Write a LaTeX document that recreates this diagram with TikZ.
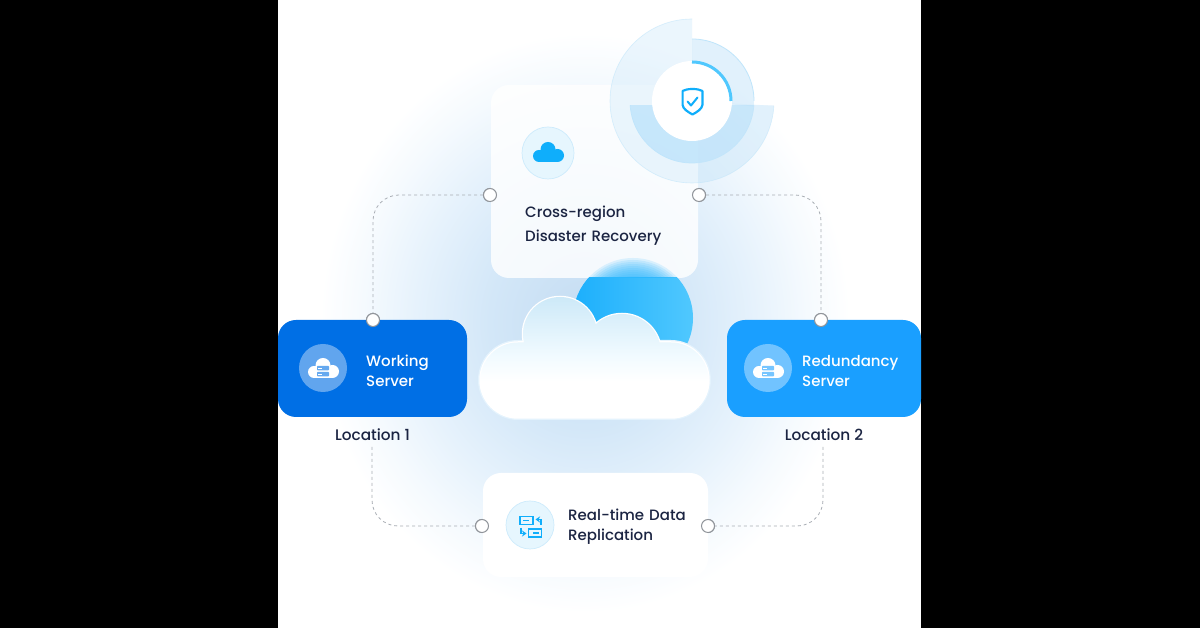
\documentclass[tikz,border=0pt]{standalone}
\usepackage{fontspec}
\usetikzlibrary{arrows.meta}
\setmainfont{Poppins Medium}
\definecolor{ink}{HTML}{1B2442}
\definecolor{skyA}{HTML}{0FAEFB}
\definecolor{sunL}{HTML}{1CAFFC}
\definecolor{sunR}{HTML}{50C8FE}
\definecolor{dashgrey}{HTML}{A9AEB5}
\definecolor{workblue}{HTML}{006FE5}
\definecolor{redblue}{HTML}{1A9FFF}
\definecolor{ringA}{HTML}{CDE8FA}
\definecolor{ringB}{HTML}{A5DAFB}
\definecolor{ringE}{HTML}{BFE5FB}
\definecolor{g0}{HTML}{C4DCF2}
\definecolor{g1}{HTML}{D3E7F8}
\definecolor{g2}{HTML}{E6F2FC}
\definecolor{g3}{HTML}{F5FAFE}
\definecolor{cloudtop}{HTML}{CDE9F8}
\definecolor{cloudmid}{HTML}{F2FBFF}
\definecolor{cloudglow}{HTML}{E4F3FD}
\definecolor{iconbg}{HTML}{E6F6FE}
\definecolor{iconedge}{HTML}{CDEBFC}
\pgfdeclareradialshading{glowS}{\pgfpoint{0bp}{0bp}}{color(0bp)=(g0); color(9bp)=(g1); color(16bp)=(g2); color(21bp)=(g3); color(25bp)=(white); color(50bp)=(white)}
\pgfdeclareverticalshading{cloudS}{100bp}{color(0bp)=(white); color(40bp)=(white); color(50bp)=(cloudmid); color(75bp)=(cloudtop); color(100bp)=(cloudtop)}
\newcommand{\minicloud}[3]{%
  \begin{scope}[shift={(#1,#2)}]
    \fill[#3] (-9,-4) circle (6) (9.5,-3.5) circle (6.5) (0,2.5) circle (7.5);
    \fill[#3] (-9,-10) rectangle (9.5,-3);
  \end{scope}}
\newcommand{\serverrows}[3]{%
  \begin{scope}[shift={(#1,#2)}]
    \fill[#3,rounded corners=.8] (-6,0) rectangle (6,4.6);
    \fill[#3,rounded corners=.8] (-6,-6) rectangle (6,-1.4);
    \fill[white] (-4.6,1.7) rectangle (-1,2.9);
    \fill[white] (-4.6,-4.3) rectangle (-1,-3.1);
  \end{scope}}
\tikzset{
  dashline/.style={draw=dashgrey,line width=.8pt,dash pattern=on 3pt off 3pt,rounded corners=26pt},
  port/.style={circle,draw=dashgrey!85!black,fill=white,line width=1pt,minimum size=13pt,inner sep=0pt},
  label/.style={font=\fontsize{15}{20}\selectfont,text=ink,align=left,anchor=west,inner sep=0pt},
  whitelabel/.style={label,text=white},
  cardbox/.style={rounded corners=18pt},
}
\begin{document}
\begin{tikzpicture}[x=1pt,y=1pt]
\useasboundingbox (0,0) rectangle (1200,628);
\fill[black] (0,0) rectangle (1200,628);
\fill[white] (278,0) rectangle (921,628);
% glow
\begin{scope}
  \clip (278,0) rectangle (921,628);
  \shade[shading=glowS] (585,305) ellipse (265 and 290);
\end{scope}
% ports and connectors
\node[port] (p1) at (490,433) {};
\node[port] (p2) at (699,433) {};
\node[port] (p3) at (373,308) {};
\node[port] (p4) at (821,308) {};
\node[port] (p5) at (482,102) {};
\node[port] (p6) at (708,102) {};
\coordinate (c1) at (372,181);
\coordinate (c2) at (823,181);
\draw[dashline] (p1) -| (p3);
\draw[dashline] (p2) -| (p4);
\draw[dashline] (c1) |- (p5);
\draw[dashline] (c2) |- (p6);
% top card
\node[cardbox,fill=white,fill opacity=.82,minimum width=207pt,minimum height=193pt,inner sep=0pt] (card) at (594.5,446.5) {};
% ring
\fill[ringA,opacity=.38] (692,527) -- (692,609) arc[start angle=90,end angle=356.6,radius=82] -- cycle;
\draw[ringE,line width=.6pt,opacity=.6] (692,609) arc[start angle=90,end angle=356.6,radius=82];
\fill[ringA,opacity=.6] (692,527) -- (692,589) arc[start angle=90,end angle=-5,radius=62] -- cycle;
\begin{scope}
  \clip (600,422) rectangle (790,522);
  \fill[ringB,opacity=.5] (692,527) circle (62);
  \draw[ringE,line width=.7pt] (692,527) circle (62);
  \clip (698,422) rectangle (790,522);
  \fill[ringA,opacity=.3] (692,527) circle (82);
\end{scope}
\draw[ringE,line width=.8pt] (692,589) arc[start angle=90,end angle=0,radius=62];
\fill[white] (692,527) circle (40);
\draw[sunR,line width=3pt] (692,566) arc[start angle=90,end angle=0,radius=39];
% shield
\draw[skyA,line width=2.2pt,line join=round] (692.5,539) .. controls (687,539) and (685,538) .. (682.6,537) -- (682.6,523) .. controls (683,519) and (688,516) .. (692.5,513.5) .. controls (697,516) and (702,519) .. (702.4,523) -- (702.4,537) .. controls (700,538) and (698,539) .. (692.5,539) -- cycle;
\draw[skyA,line width=2pt,line cap=round,line join=round] (687.5,526.5) -- (691,522.5) -- (697.5,530.5);
% sun
\begin{scope}
  \clip (500,150) rectangle (760,350);
  \shade[left color=sunL,right color=sunR] (633,310) circle (60);
\end{scope}
\begin{scope}
  \clip (500,350) rectangle (760,380);
  \foreach \r in {60,58,...,34} {\fill[sunL!70!sunR,opacity=.14] (633,310) circle (\r);}
\end{scope}
% cloud
\path[draw=cloudglow,line width=5pt] (518,210.5) -- (671,210.5) arc[start angle=-90,end angle=90,radius=37.5] -- (518,285.5) arc[start angle=90,end angle=270,radius=37.5] -- cycle;
\path[draw=white,line width=2.5pt] (560,294) circle (37) (622,275) circle (39)
  (518,210.5) -- (671,210.5) arc[start angle=-90,end angle=90,radius=37.5] -- (518,285.5) arc[start angle=90,end angle=270,radius=37.5] -- cycle;
\shade[shading=cloudS]
  (560,294) circle (37) (622,275) circle (39)
  (518,210.5) -- (671,210.5) arc[start angle=-90,end angle=90,radius=37.5] -- (518,285.5) arc[start angle=90,end angle=270,radius=37.5] -- cycle;
% side cards
\node[cardbox,fill=workblue,minimum width=189pt,minimum height=97pt,inner sep=0pt] (work) at (372.5,259.5) {};
\node[cardbox,fill=redblue,minimum width=194pt,minimum height=97pt,inner sep=0pt] (red) at (824,259.5) {};
\node[cardbox,fill=white,minimum width=225pt,minimum height=104pt,inner sep=0pt] (rep) at (595.5,103) {};
\node[port] at (p1) {};
\node[port] at (p2) {};
\node[port] at (p3) {};
\node[port] at (p4) {};
\node[port] at (p5) {};
\node[port] at (p6) {};
% icons
\node[circle,fill=white,fill opacity=.38,minimum size=48pt,inner sep=0pt] (i1) at (323,260) {};
\minicloud{323}{260}{white}
\serverrows{323}{257.5}{workblue!60!white}
\node[circle,fill=white,fill opacity=.38,minimum size=48pt,inner sep=0pt] (i2) at (768,260) {};
\minicloud{768}{260}{white}
\serverrows{768}{257.5}{redblue!60!white}
\node[circle,fill=iconbg,draw=iconedge,line width=.7pt,minimum size=52pt,inner sep=0pt] (i3) at (548,475) {};
\minicloud{548}{476}{skyA}
\node[circle,fill=iconbg,draw=iconedge,line width=.7pt,minimum size=48pt,inner sep=0pt] (i4) at (530,103) {};
% replication icon
\draw[skyA,line width=1.8pt] (520,103.5) rectangle (533,111.5);
\fill[skyA] (523,106.8) rectangle (529,108.4);
\draw[skyA,line width=1.8pt] (528.5,91) rectangle (541.5,99);
\fill[skyA] (532.5,94.2) rectangle (538.5,95.8);
\draw[skyA,line width=1.8pt,-{Stealth[length=4.5pt,width=6pt]}] (541,103) -- (541,108.5) -- (535.5,108.5);
\draw[skyA,line width=1.8pt,-{Stealth[length=4.5pt,width=6pt]}] (521,100) -- (521,94.5) -- (526.5,94.5);
% text
\node[label,text width=160pt,font=\fontsize{15}{24}\selectfont] (t1) at (525,402.5) {Cross-region\\Disaster Recovery};
\node[label,text width=130pt] (t2) at (568,101) {Real-time Data\\Replication};
\node[whitelabel,text width=90pt] (t3) at (366,257.5) {Working\\Server};
\node[whitelabel,text width=110pt] (t4) at (802,257) {Redundancy\\Server};
\node[label,anchor=center,font=\fontsize{15.3}{20}\selectfont] (l1) at (372.5,193) {Location 1};
\node[label,anchor=center,font=\fontsize{15.3}{20}\selectfont] (l2) at (824,193) {Location 2};
\end{tikzpicture}
\end{document}
